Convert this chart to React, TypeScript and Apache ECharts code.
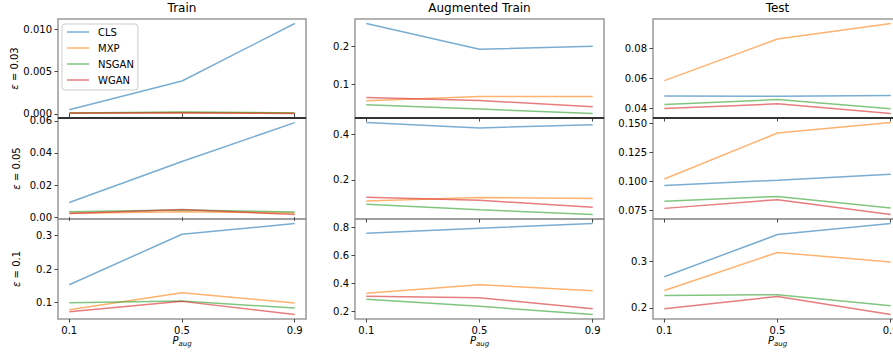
import React, { useEffect, useRef } from "react";
import * as echarts from "echarts";

const FONT = "DejaVu Sans";

// x positions (P_aug)
const pAug = [0.1, 0.5, 0.9];
const xTicks = [0.1, 0.5, 0.9];
const seriesNames = ["CLS", "MXP", "NSGAN", "WGAN"];
const colTitles = ["Train", "Augmented Train", "Test"];
const rowLabels = ["0.03", "0.05", "0.1"];

// values per panel: [CLS, MXP, NSGAN, WGAN], each at P_aug 0.1, 0.5, 0.9
const train003 = [
  [0.00047, 0.0039, 0.01074],
  [0.00005, 0.00015, 0.00008],
  [0.0001, 0.0002, 0.0001],
  [0.0001, 0.0001, 0.00003],
];
const train005 = [
  [0.0092, 0.0347, 0.0589],
  [0.0025, 0.0035, 0.0027],
  [0.0035, 0.0045, 0.0033],
  [0.0023, 0.0048, 0.0018],
];
const train01 = [
  [0.1537, 0.304, 0.336],
  [0.079, 0.13, 0.099],
  [0.1, 0.105, 0.084],
  [0.073, 0.104, 0.065],
];
const aug003 = [
  [0.262, 0.193, 0.201],
  [0.0556, 0.067, 0.067],
  [0.045, 0.0335, 0.0218],
  [0.0644, 0.0564, 0.0396],
];
const aug005 = [
  [0.452, 0.4287, 0.443],
  [0.107, 0.122, 0.118],
  [0.0926, 0.0685, 0.048],
  [0.124, 0.1105, 0.079],
];
const aug01 = [
  [0.759, 0.795, 0.829],
  [0.329, 0.391, 0.348],
  [0.286, 0.236, 0.178],
  [0.3075, 0.298, 0.219],
];
const test003 = [
  [0.0483, 0.0481, 0.0487],
  [0.0585, 0.086, 0.0963],
  [0.0426, 0.0459, 0.0398],
  [0.04, 0.0431, 0.0367],
];
const test005 = [
  [0.0965, 0.101, 0.106],
  [0.102, 0.1416, 0.1506],
  [0.0828, 0.087, 0.077],
  [0.0767, 0.0842, 0.0715],
];
const test01 = [
  [0.2674, 0.3587, 0.3826],
  [0.2376, 0.32, 0.299],
  [0.2267, 0.2283, 0.2043],
  [0.198, 0.2246, 0.1855],
];

// y tick values per panel
const ticksTrain003 = [0, 0.005, 0.01];
const ticksTrain005 = [0, 0.02, 0.04, 0.06];
const ticksTrain01 = [0.1, 0.2, 0.3];
const ticksAug003 = [0.1, 0.2];
const ticksAug005 = [0.2, 0.4];
const ticksAug01 = [0.2, 0.4, 0.6, 0.8];
const ticksTest003 = [0.04, 0.06, 0.08];
const ticksTest005 = [0.075, 0.1, 0.125, 0.15];
const ticksTest01 = [0.2, 0.3];

const panelData = [
  [train003, aug003, test003],
  [train005, aug005, test005],
  [train01, aug01, test01],
];
const panelTicks = [
  [ticksTrain003, ticksAug003, ticksTest003],
  [ticksTrain005, ticksAug005, ticksTest005],
  [ticksTrain01, ticksAug01, ticksTest01],
];
const panelDecimals = [
  [3, 1, 2],
  [2, 1, 3],
  [1, 1, 1],
];

const colors = [
  "rgba(31,119,180,0.6)",
  "rgba(255,127,14,0.6)",
  "rgba(44,160,44,0.6)",
  "rgba(214,39,40,0.6)",
];

const colLeft = [58, 355, 653];
const colWidth = [248, 249, 249];
const rowTop = [19, 118, 219];
const rowHeight = [99, 101, 100];
const spine = "#999";

export default function App() {
  const ref = useRef<HTMLDivElement>(null);
  useEffect(() => {
    if (!ref.current) return;
    const chart = echarts.init(ref.current, undefined, { renderer: "svg" });
    const grids: any[] = [];
    const xAxes: any[] = [];
    const yAxes: any[] = [];
    const series: any[] = [];
    for (let r = 0; r < 3; r++) {
      for (let c = 0; c < 3; c++) {
        const idx = r * 3 + c;
        const data = panelData[r][c];
        const all = data.flat();
        const dmin = Math.min(...all);
        const dmax = Math.max(...all);
        const m = 0.05 * (dmax - dmin);
        const dec = panelDecimals[r][c];
        grids.push({
          left: colLeft[c],
          top: rowTop[r],
          width: colWidth[c],
          height: rowHeight[r],
          show: true,
          borderColor: spine,
          borderWidth: 1.5,
          backgroundColor: "transparent",
          containLabel: false,
          outerBoundsMode: "none",
        });
        xAxes.push({
          type: "value",
          gridIndex: idx,
          min: 0.06,
          max: 0.94,
          splitLine: { show: false },
          axisLine: { show: false },
          axisTick: {
            show: true,
            length: 3.5,
            customValues: xTicks,
            lineStyle: { color: "#444", width: 1 },
          },
          axisLabel: {
            show: r === 2,
            customValues: xTicks,
            margin: 6,
            fontSize: 10,
            fontFamily: FONT,
            color: "#000",
            formatter: (v: number) => v.toFixed(1),
          },
          name: r === 2 ? "{p|P}{s|aug}" : "",
          nameLocation: "middle",
          nameGap: 15,
          nameTextStyle: {
            fontFamily: FONT,
            color: "#000",
            rich: {
              p: { fontStyle: "italic", fontSize: 10, fontFamily: FONT, color: "#000" },
              s: {
                fontStyle: "italic",
                fontSize: 7,
                fontFamily: FONT,
                color: "#000",
                padding: [6, 0, 0, 0],
              },
            },
          },
        });
        yAxes.push({
          type: "value",
          gridIndex: idx,
          min: dmin - m,
          max: dmax + m,
          splitLine: { show: false },
          axisLine: { show: false },
          axisTick: {
            show: true,
            length: 3.5,
            customValues: panelTicks[r][c],
            lineStyle: { color: "#444", width: 1 },
          },
          axisLabel: {
            customValues: panelTicks[r][c],
            margin: 6,
            fontSize: 10,
            fontFamily: FONT,
            color: "#000",
            formatter: (v: number) => v.toFixed(dec),
          },
          name: c === 0 ? "{i|ε} = " + rowLabels[r] : "",
          nameLocation: "middle",
          nameRotate: 90,
          nameGap: 37,
          nameTextStyle: {
            fontSize: 10,
            fontFamily: FONT,
            color: "#000",
            rich: {
              i: { fontStyle: "italic", fontSize: 10, fontFamily: FONT, color: "#000" },
            },
          },
        });
        data.forEach((vals, k) => {
          series.push({
            type: "line",
            name: seriesNames[k],
            xAxisIndex: idx,
            yAxisIndex: idx,
            data: pAug.map((x, i) => [x, vals[i]]),
            symbol: "none",
            color: colors[k],
            lineStyle: { width: 1.5, color: colors[k] },
          });
        });
      }
    }
    const titles = colTitles.map((t, c) => ({
      text: t,
      left: colLeft[c] + colWidth[c] / 2,
      top: 2,
      textAlign: "center",
      padding: 0,
      textStyle: { fontSize: 12, fontWeight: "normal", color: "#000", fontFamily: FONT },
    }));
    const boundary = colLeft.map((l, c) => ({
      type: "line",
      z: 100,
      shape: { x1: l, y1: rowTop[1], x2: l + colWidth[c], y2: rowTop[1] },
      style: { stroke: "#333", lineWidth: 2 },
    }));
    chart.setOption({
      animation: false,
      backgroundColor: "#fff",
      title: titles,
      legend: {
        data: seriesNames,
        orient: "vertical",
        left: 62,
        top: 24,
        padding: [2, 4, 4, 5],
        itemGap: 4,
        itemWidth: 22,
        itemHeight: 1.5,
        icon: "rect",
        borderColor: "#ccc",
        borderWidth: 1,
        borderRadius: 3,
        backgroundColor: "rgba(255,255,255,0.8)",
        textStyle: {
          fontSize: 10,
          fontFamily: FONT,
          color: "#000",
          lineHeight: 12,
          padding: [0, 0, 0, 4],
        },
      },
      grid: grids,
      xAxis: xAxes,
      yAxis: yAxes,
      series,
      graphic: boundary,
    });
    return () => chart.dispose();
  }, []);
  return (
    <div
      ref={ref}
      style={{ position: "absolute", left: 0, top: 0, width: 893, height: 354 }}
    />
  );
}
